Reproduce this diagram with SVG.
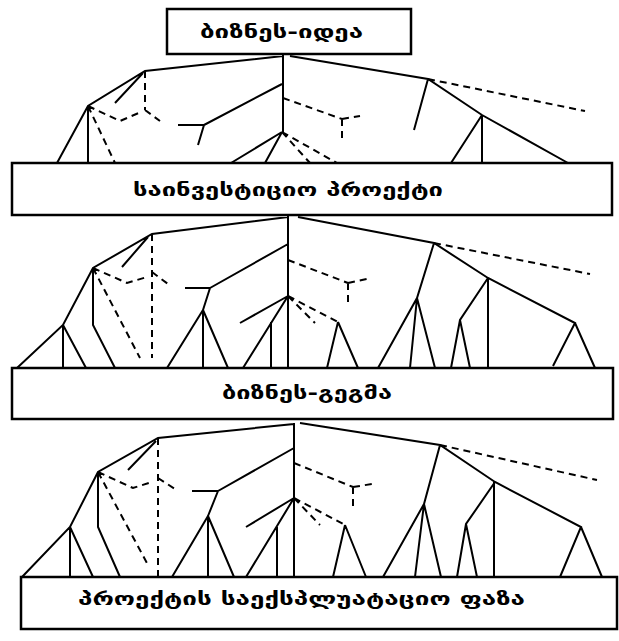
<svg xmlns="http://www.w3.org/2000/svg" width="619" height="641" viewBox="0 0 619 641">
<style>
.box{fill:#fff;stroke:#000;stroke-width:2.5}
.t{font-family:"DejaVu Sans","Noto Sans",sans-serif;font-weight:bold;font-size:17px;fill:#000;text-anchor:start}
.s{fill:none;stroke:#000;stroke-width:2}
.d{fill:none;stroke:#000;stroke-width:2;stroke-dasharray:7 5}
</style>
<rect width="619" height="641" fill="#fff"/>
<g id="connectors">
<g id="tree1">
<path class="s" d="M283,55V132 M283,56L145,71 L88,106 L57,163 M88,106V163 M143,73L115,103 M282,84L204,125 M178,125H204 M204,125L198,145 M282,132L231,163 M282,132L265,163 M290,56L428,79 L482,115 L568,163 M482,115V163 M482,115L451,163 M428,79L414,130"/>
<path class="d" d="M88,106L115,163 M88,106L120,121 L141,112 M145,71V110 M145,110L160,121 M282,132L310,163 M282,132L337,163 M283,98L342,119 M342,119V140 M342,119L360,116 M428,79L585,111"/>
</g>
<g id="tree2">
<path class="s" d="M288,216V368 M288,217L152,234 L93,268 L63,325 L17,368 M63,325V368 M63,325L86,368 M93,268V325 L115,368 M148,237L122,267 M288,244L210,288 M185,288H210 M210,288L203,310 M203,310L167,368 M203,310V368 M203,310L228,368 M288,296L240,323 M288,296L243,368 M271,322V368 M298,217L434,243 L488,278 L575,323 L553,366 M575,323L595,368 M488,278V368 M488,278L460,320 L451,368 M460,320L470,368 M434,243L417,298 L378,368 M417,298L410,368 M417,298L435,368 M338,322L327,368 M338,322L358,368"/>
<path class="d" d="M93,268L140,358 M93,268L127,283 L147,277 M152,234V358 M152,272L168,284 M288,296L315,323 M288,296L338,322 M288,260L348,283 M348,283V303 M348,283L367,279 M434,243L590,274"/>
</g>
<g id="tree3">
<path class="s" d="M294,423V577 M294,424L158,438 L98,472 L70,527 L22,577 M70,527V577 M70,527L93,577 M98,472V527 L120,577 M156,441L128,470 M294,448L218,491 M192,491H218 M218,491L208,516 M208,516L172,577 M208,516V577 M208,516L234,577 M294,498L246,527 M294,498L246,577 M277,527V577 M300,423L440,445 L495,482 L581,527 L560,577 M581,527L602,577 M494,482V577 M495,482L466,524 L457,577 M466,524L477,577 M440,445L424,504 L383,577 M424,504L415,577 M424,504L441,577 M345,525L333,577 M345,525L366,577"/>
<path class="d" d="M98,472L148,565 M98,472L133,488 L152,482 M158,438V577 M158,478L175,489 M294,498L320,525 M294,498L345,525 M294,463L353,487 M353,487V508 M353,487L372,484 M440,445L597,480"/>
</g>
</g>
<g id="node-idea">
<rect class="box" x="167" y="9" width="244" height="45"/>
<text class="t" x="200" y="38" textLength="163" lengthAdjust="spacingAndGlyphs">ბიზნეს-იდეა</text>
</g>
<g id="node-project">
<rect class="box" x="12" y="163" width="600" height="52"/>
<text class="t" x="133" y="196" textLength="310" lengthAdjust="spacingAndGlyphs">საინვესტიციო პროექტი</text>
</g>
<g id="node-plan">
<rect class="box" x="12" y="368" width="601" height="51"/>
<text class="t" x="222" y="399" textLength="170" lengthAdjust="spacingAndGlyphs">ბიზნეს-გეგმა</text>
</g>
<g id="node-phase">
<rect class="box" x="21" y="577" width="596" height="52"/>
<text class="t" x="78" y="605" textLength="447" lengthAdjust="spacingAndGlyphs">პროექტის საექსპლუატაციო ფაზა</text>
</g>
</svg>
